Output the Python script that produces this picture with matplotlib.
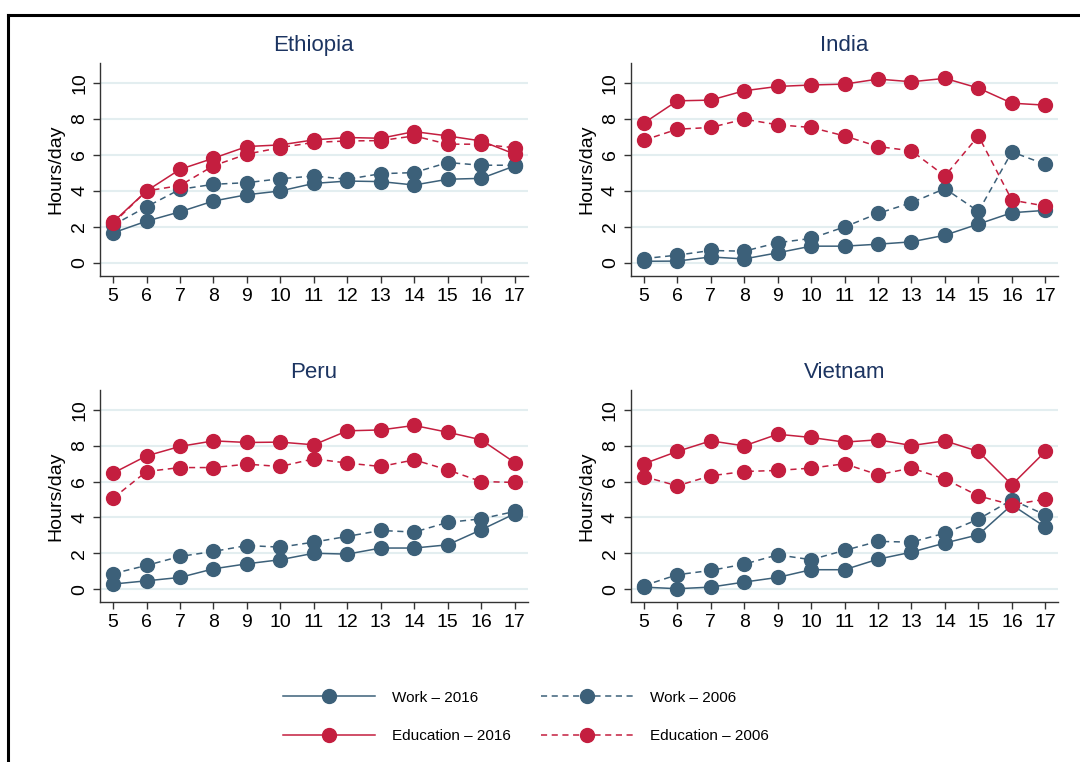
import matplotlib.pyplot as plt
from matplotlib.lines import Line2D

plt.rcParams['font.family'] = ['Liberation Sans', 'DejaVu Sans']

ages = list(range(5, 18))

countries = ['Ethiopia', 'India', 'Peru', 'Vietnam']

# Ethiopia
eth_work16 = [1.67, 2.32, 2.84, 3.44, 3.79, 4.00, 4.42, 4.55, 4.52, 4.33, 4.65, 4.70, 5.39]
eth_work06 = [2.10, 3.12, 4.09, 4.37, 4.46, 4.68, 4.83, 4.65, 4.96, 5.02, 5.58, 5.43, 5.43]
eth_edu16 = [2.27, 4.00, 5.20, 5.82, 6.47, 6.56, 6.84, 6.97, 6.93, 7.30, 7.06, 6.78, 6.05]
eth_edu06 = [2.20, 4.00, 4.30, 5.40, 6.05, 6.41, 6.70, 6.78, 6.80, 7.06, 6.60, 6.60, 6.40]

# India
ind_work16 = [0.09, 0.10, 0.33, 0.22, 0.56, 0.93, 0.93, 1.04, 1.17, 1.54, 2.16, 2.79, 2.92]
ind_work06 = [0.24, 0.43, 0.69, 0.65, 1.12, 1.36, 2.00, 2.75, 3.35, 4.13, 2.86, 6.17, 5.48]
ind_edu16 = [7.77, 9.01, 9.05, 9.57, 9.81, 9.89, 9.94, 10.22, 10.07, 10.26, 9.72, 8.88, 8.77]
ind_edu06 = [6.82, 7.43, 7.53, 7.99, 7.68, 7.53, 7.06, 6.47, 6.23, 4.83, 7.06, 3.49, 3.16]

# Peru
per_work16 = [0.28, 0.46, 0.65, 1.13, 1.41, 1.64, 2.00, 1.95, 2.29, 2.29, 2.47, 3.31, 4.20]
per_work06 = [0.86, 1.32, 1.82, 2.10, 2.43, 2.34, 2.62, 2.94, 3.27, 3.18, 3.72, 3.92, 4.33]
per_edu16 = [6.47, 7.43, 7.96, 8.27, 8.18, 8.20, 8.05, 8.83, 8.88, 9.13, 8.75, 8.33, 7.06]
per_edu06 = [5.07, 6.56, 6.78, 6.78, 6.97, 6.84, 7.27, 7.03, 6.84, 7.21, 6.65, 6.00, 5.95]

# Vietnam
vnm_work16 = [0.11, 0.02, 0.11, 0.39, 0.65, 1.08, 1.08, 1.67, 2.06, 2.57, 3.03, 4.70, 3.46]
vnm_work06 = [0.19, 0.80, 1.04, 1.39, 1.91, 1.64, 2.16, 2.66, 2.62, 3.12, 3.90, 4.98, 4.14]
vnm_edu16 = [6.99, 7.68, 8.27, 7.99, 8.64, 8.46, 8.20, 8.33, 8.01, 8.27, 7.68, 5.82, 7.68]
vnm_edu06 = [6.28, 5.76, 6.32, 6.56, 6.62, 6.75, 6.99, 6.38, 6.75, 6.14, 5.20, 4.70, 5.02]

panel_data = {
    'Ethiopia': (eth_work16, eth_work06, eth_edu16, eth_edu06),
    'India': (ind_work16, ind_work06, ind_edu16, ind_edu06),
    'Peru': (per_work16, per_work06, per_edu16, per_edu06),
    'Vietnam': (vnm_work16, vnm_work06, vnm_edu16, vnm_edu06),
}

blue = '#3c6079'
red = '#c41e3f'
title_col = '#1c3461'
grid_col = '#e3eef0'

fig = plt.figure(figsize=(10.8, 7.62), dpi=100)

# axes boxes in figure fraction (left, bottom, width, height)
boxes = {
    'Ethiopia': (0.0926, 0.638, 0.396, 0.279),
    'India': (0.584, 0.638, 0.396, 0.279),
    'Peru': (0.0926, 0.210, 0.396, 0.278),
    'Vietnam': (0.584, 0.210, 0.396, 0.278),
}

for c in countries:
    ax = fig.add_axes(boxes[c])
    w16, w06, e16, e06 = panel_data[c]
    ms = 10
    lw = 1.1
    ax.plot(ages, w16, color=blue, lw=lw, marker='o', ms=ms, zorder=3)
    ax.plot(ages, w06, color=blue, lw=lw, ls=(0, (4, 3)), marker='o', ms=ms, zorder=3)
    ax.plot(ages, e16, color=red, lw=lw, marker='o', ms=ms, zorder=4)
    ax.plot(ages, e06, color=red, lw=lw, ls=(0, (4, 3)), marker='o', ms=ms, zorder=4)

    ax.set_xlim(4.61, 17.39)
    ax.set_ylim(-0.72, 11.1)
    ax.set_xticks(ages)
    ax.set_yticks([0, 2, 4, 6, 8, 10])
    ax.grid(axis='y', color=grid_col, lw=1.5)
    ax.set_axisbelow(True)
    for s in ['top', 'right']:
        ax.spines[s].set_visible(False)
    for s in ['left', 'bottom']:
        ax.spines[s].set_color('#333333')
        ax.spines[s].set_linewidth(1.0)
    ax.tick_params(axis='both', labelsize=14, color='#333333', length=5, width=1.0)
    for lab in ax.get_yticklabels():
        lab.set_rotation(90)
        lab.set_va('center')
    ax.set_ylabel('Hours/day', fontsize=14, labelpad=5)
    ax.set_title(c, fontsize=16, color=title_col, pad=9)

handles = [
    Line2D([], [], color=blue, lw=1.1, marker='o', ms=10),
    Line2D([], [], color=red, lw=1.1, marker='o', ms=10),
    Line2D([], [], color=blue, lw=1.1, ls=(0, (4, 3)), marker='o', ms=10),
    Line2D([], [], color=red, lw=1.1, ls=(0, (4, 3)), marker='o', ms=10),
]
labels = ['Work \u2013 2016', 'Education \u2013 2016', 'Work \u2013 2006', 'Education \u2013 2006']
fig.legend(handles, labels, ncol=2, loc='center', bbox_to_anchor=(0.487, 0.059),
           frameon=False, fontsize=11, handlelength=6, handletextpad=1.1,
           columnspacing=2.0, labelspacing=1.6)

# outer frame (cropped at right and bottom)
fig.add_artist(Line2D([8 / 1080, 1.0], [1 - 15 / 762, 1 - 15 / 762], color='black', lw=2.2,
                      transform=fig.transFigure))
fig.add_artist(Line2D([8 / 1080, 8 / 1080], [0.0, 1 - 15 / 762], color='black', lw=2.2,
                      transform=fig.transFigure))

fig.savefig('out.png', dpi=100)
